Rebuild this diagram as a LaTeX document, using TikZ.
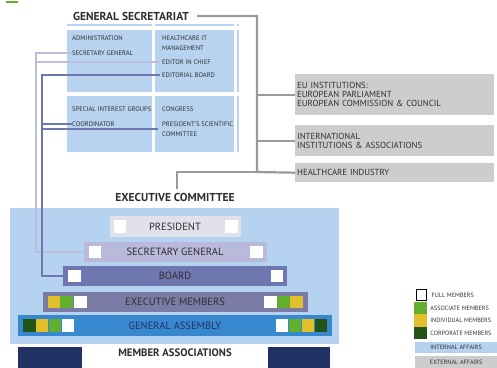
\documentclass[tikz,border=0pt]{standalone}
\usepackage{fontspec}
\setmainfont{PT Sans}
\usetikzlibrary{positioning}

\definecolor{cellblue}{HTML}{B7D3F0}
\definecolor{bigblue}{HTML}{B5D2F1}
\definecolor{presbar}{HTML}{E1E1EC}
\definecolor{secbar}{HTML}{B9B9DB}
\definecolor{boardbar}{HTML}{6F77B0}
\definecolor{execbar}{HTML}{7A7CA6}
\definecolor{gabar}{HTML}{3888D0}
\definecolor{navy}{HTML}{223163}
\definecolor{extgray}{HTML}{CDCDCD}
\definecolor{linegray}{HTML}{9A9A9A}
\definecolor{lavline}{HTML}{BDBDDC}
\definecolor{boardline}{HTML}{6E76B0}
\definecolor{grn}{HTML}{62AE2F}
\definecolor{yel}{HTML}{E2C02C}
\definecolor{dkgrn}{HTML}{245319}
\definecolor{txt}{HTML}{2E2E2E}

\tikzset{
  cell/.style={rectangle, fill=cellblue, anchor=north west, minimum width=85pt, minimum height=62pt, inner sep=0pt},
  celltext/.style={anchor=west, inner sep=0pt, align=left, text=txt, font=\fontsize{6.6}{10}\selectfont},
  title/.style={inner sep=0pt, text=txt, font=\fontsize{11.5}{12}\selectfont\bfseries},
  bar/.style={rectangle, minimum height=20pt, inner sep=0pt, text=txt, font=\fontsize{10.5}{11}\selectfont},
  sq/.style={rectangle, minimum size=12.5pt, inner sep=0pt},
  extbox/.style={rectangle, fill=extgray, anchor=north west, minimum width=199pt, text width=195pt, inner xsep=2pt, align=left, text=txt, font=\fontsize{8.8}{9}\selectfont},
  legtext/.style={inner sep=0pt, text=txt, font=\fontsize{6.2}{7}\selectfont},
  gline/.style={draw=linegray, line width=2.2pt},
  sgline/.style={draw=lavline, line width=2.5pt},
  bdline/.style={draw=boardline, line width=2.5pt}
}

\begin{document}
\begin{tikzpicture}[x=1pt, y=-1pt]
\useasboundingbox (0,0) rectangle (497,367);

\draw[grn, line width=1.5pt] (6,2) -- (18,2);

% general secretariat
\node[title] (gs) at (131,16) {GENERAL SECRETARIAT};
\draw[cellblue, line width=1.2pt] (67,25) -- (152,25) (155,25) -- (234,25) (237,25) -- (239,25);
\draw[cellblue, line width=1.2pt] (238,30) -- (238,92) (238,96) -- (238,152);
\node[cell] (c1) at (67,30) {};
\node[cell, minimum width=79pt] (c2) at (155,30) {};
\node[cell, minimum height=56pt] (c3) at (67,96) {};
\node[cell, minimum width=79pt, minimum height=56pt] (c4) at (155,96) {};

\node[celltext] (adm) at (72,38) {ADMINISTRATION};
\node[celltext] (sgen) at (72,53) {SECRETARY GENERAL};
\node[celltext] (hit) at (162,43) {HEALTHCARE IT\\MANAGEMENT};
\node[celltext] (eic) at (162,62) {EDITOR IN CHIEF};
\node[celltext] (eb) at (162,75) {EDITORIAL BOARD};
\node[celltext] (sig) at (72,109) {SPECIAL INTEREST GROUPS};
\node[celltext] (coord) at (72,124) {COORDINATOR};
\node[celltext] (cong) at (162,109) {CONGRESS};
\node[celltext] (psc) at (162,129) {PRESIDENT'S SCIENTIFIC\\COMMITTEE};

% external affairs
\node[extbox, minimum height=41pt] (eu) at (295,74) {EU INSTITUTIONS:\\EUROPEAN PARLIAMENT\\EUROPEAN COMMISSION \& COUNCIL};
\node[extbox, minimum height=31pt] (intl) at (295,125) {INTERNATIONAL\\INSTITUTIONS \& ASSOCIATIONS};
\node[extbox, minimum height=19pt] (hc) at (295,163) {HEALTHCARE INDUSTRY};

% executive committee
\node[title] (ect) at (175,197) {EXECUTIVE COMMITTEE};
\node[rectangle, fill=bigblue, anchor=north west, minimum width=329pt, minimum height=136pt, inner sep=0pt] (ec) at (10,208) {};

\node[bar, fill=presbar, minimum width=131pt, minimum height=21pt] (pres) at (175,226.5) {PRESIDENT};
\node[bar, fill=secbar, minimum width=183pt] (sec) at (175,252) {SECRETARY GENERAL};
\node[bar, fill=boardbar, minimum width=224pt] (board) at (175,276) {BOARD};
\node[bar, fill=execbar, minimum width=265pt] (exec) at (175,302) {EXECUTIVE MEMBERS};
\node[bar, fill=gabar, minimum width=314pt, minimum height=21pt, text=navy] (ga) at (175,325.5) {GENERAL ASSEMBLY};

\node[sq, fill=white, right=4pt of pres.west] (pres-l) {};
\node[sq, fill=white, left=3pt of pres.east] (pres-r) {};
\node[sq, fill=white, right=5pt of sec.west] (sec-l) {};
\node[sq, fill=white, left=4pt of sec.east] (sec-r) {};
\node[sq, fill=white, right=5pt of board.west] (board-l) {};
\node[sq, fill=white, left=4pt of board.east] (board-r) {};

\node[sq, fill=yel, right=5pt of exec.west] (exec-l1) {};
\node[sq, fill=grn, right=0pt of exec-l1] (exec-l2) {};
\node[sq, fill=white, right=1pt of exec-l2] (exec-l3) {};
\node[sq, fill=yel, left=5pt of exec.east] (exec-r1) {};
\node[sq, fill=grn, left=0pt of exec-r1] (exec-r2) {};
\node[sq, fill=white, left=0pt of exec-r2] (exec-r3) {};

\node[sq, fill=dkgrn, right=5pt of ga.west] (ga-l1) {};
\node[sq, fill=yel, right=0pt of ga-l1] (ga-l2) {};
\node[sq, fill=grn, right=0pt of ga-l2] (ga-l3) {};
\node[sq, fill=white, right=0pt of ga-l3] (ga-l4) {};
\node[sq, fill=dkgrn, left=5pt of ga.east] (ga-r1) {};
\node[sq, fill=yel, left=0pt of ga-r1] (ga-r2) {};
\node[sq, fill=grn, left=0pt of ga-r2] (ga-r3) {};
\node[sq, fill=white, left=0pt of ga-r3] (ga-r4) {};

% member associations
\node[title, font=\fontsize{10.8}{11}\selectfont\bfseries] (ma) at (175,353) {MEMBER ASSOCIATIONS};
\node[rectangle, fill=navy, anchor=north west, minimum width=64pt, minimum height=24pt, inner sep=0pt] (ma-l) at (18,347) {};
\node[rectangle, fill=navy, anchor=north west, minimum width=62pt, minimum height=24pt, inner sep=0pt] (ma-r) at (268,347) {};

% connectors
\coordinate (sgdrop) at (36,252);
\coordinate (ebdrop) at (42,276);
\coordinate (hub) at (257,172);
\draw[sgline] (sgen.west) -| (sgdrop) -- (sec.west);
\draw[sgline] ([xshift=-2pt]eic.west) -- (eic.west -| sgdrop);
\draw[bdline] ([xshift=-2pt]eb.west) -| (ebdrop) -- (board.west);
\draw[bdline] (coord.west) -- (coord.west -| ebdrop);
\draw[bdline] ([xshift=-4pt]psc.west) -- (psc.west -| ebdrop);
\draw[gline] ([xshift=8pt]gs.east) -| (hub) -- (hc.west);
\draw[gline] (eu.west) -- (eu.west -| hub);
\draw[gline] (intl.west) -- (intl.west -| hub);
\draw[gline] (hub) -| ([yshift=4pt]ect.north -| 177,0);

% legend
\node[sq, draw=black, line width=1.3pt, minimum size=10.5pt, fill=white] (lfull) at (421.5,295) {};
\node[legtext, right=4pt of lfull] (tfull) {FULL MEMBERS};
\node[sq, fill=grn, minimum width=13pt] (lass) at (420.5,308) {};
\node[legtext, right=3pt of lass] (tass) {ASSOCIATE MEMBERS};
\node[sq, fill=yel, minimum width=13pt] (lind) at (420.5,320.5) {};
\node[legtext, right=3pt of lind] (tind) {INDIVIDUAL MEMBERS};
\node[sq, fill=dkgrn, minimum width=13pt] (lcorp) at (420.5,333) {};
\node[legtext, right=3pt of lcorp] (tcorp) {CORPORATE MEMBERS};
\node[rectangle, fill=bigblue, anchor=north west, minimum width=82pt, minimum height=11pt, inner sep=0pt, legtext] (lint) at (415,342) {INTERNAL AFFAIRS};
\node[rectangle, fill=extgray, anchor=north west, minimum width=82pt, minimum height=12pt, inner sep=0pt, legtext] (lext) at (415,356) {EXTERNAL AFFAIRS};
\end{tikzpicture}
\end{document}
